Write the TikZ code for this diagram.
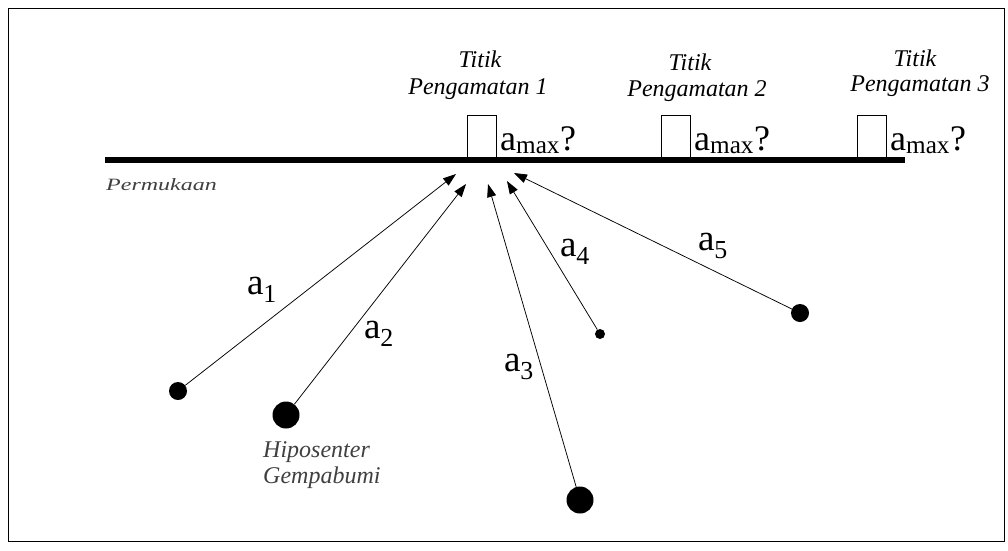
\documentclass[tikz,border=0pt]{standalone}
\usepackage{fontspec}
\setmainfont{Liberation Serif}
\usetikzlibrary{arrows.meta}
\begin{document}
\begin{tikzpicture}[x=1pt,y=-1pt,
  ray/.style={-{Triangle[length=13pt,width=9pt]},line width=0.75pt},
  hypo/.style={circle,fill=black,inner sep=0pt},
  obs/.style={draw,line width=1pt,minimum width=29pt,minimum height=42pt,inner sep=0pt,anchor=south},
  amax/.style={anchor=base west,font=\fontsize{36}{36}\selectfont,inner sep=1pt},
  ttl/.style={anchor=base,font=\itshape\fontsize{24}{24}\selectfont,inner sep=0pt},
  lbl/.style={font=\fontsize{37}{37}\selectfont,inner sep=0pt},
  note/.style={anchor=base west,font=\itshape\fontsize{24}{24}\selectfont,text=black!75,inner sep=0pt}]
\useasboundingbox (0,0) rectangle (1008,550);
\draw[line width=1pt] (8,8) rectangle (1004,541);
% surface
\draw[line width=6.5pt] (105,160) -- (905,160);
\node[note] (perm) at (106,190) {\scalebox{1}[0.72]{Permukaan}};
% observation points
\node[obs] (o1) at (482,158) {};
\node[obs] (o2) at (676,158) {};
\node[obs] (o3) at (872,158) {};
\node[amax] (m1) at (499,150) {a\textsubscript{max}?};
\node[amax] (m2) at (693,150) {a\textsubscript{max}?};
\node[amax] (m3) at (889,150) {a\textsubscript{max}?};
\node[ttl] (t1a) at (480,67) {Titik};
\node[ttl] (t1b) at (478,94) {Pengamatan 1};
\node[ttl] (t2a) at (690,70) {Titik};
\node[ttl] (t2b) at (697,96) {Pengamatan 2};
\node[ttl] (t3a) at (915,66) {Titik};
\node[ttl] (t3b) at (920,91) {Pengamatan 3};
% hypocenters
\node[hypo,minimum size=18pt] (h1) at (178,391) {};
\node[hypo,minimum size=27pt] (h2) at (286,415) {};
\node[hypo,minimum size=27pt] (h3) at (580,500) {};
\node[hypo,minimum size=10pt] (h4) at (600,334) {};
\node[hypo,minimum size=18pt] (h5) at (800,313) {};
\coordinate (e1) at (456,174);
\coordinate (e2) at (466,184);
\coordinate (e3) at (488,184);
\coordinate (e4) at (507,181);
\coordinate (e5) at (514,173);
\draw[ray] (h1) -- (e1);
\draw[ray] (h2) -- (e2);
\draw[ray] (h3) -- (e3);
\draw[ray] (h4) -- (e4);
\draw[ray] (h5) -- (e5);
\node[lbl] (l1) at (262,290) {a\textsubscript{1}};
\node[lbl] (l2) at (379,334) {a\textsubscript{2}};
\node[lbl] (l3) at (519,367) {a\textsubscript{3}};
\node[lbl] (l4) at (575,252) {a\textsubscript{4}};
\node[lbl] (l5) at (713,246) {a\textsubscript{5}};
\node[note] (hl1) at (263,457) {Hiposenter};
\node[note] (hl2) at (263,483) {Gempabumi};
\end{tikzpicture}
\end{document}
